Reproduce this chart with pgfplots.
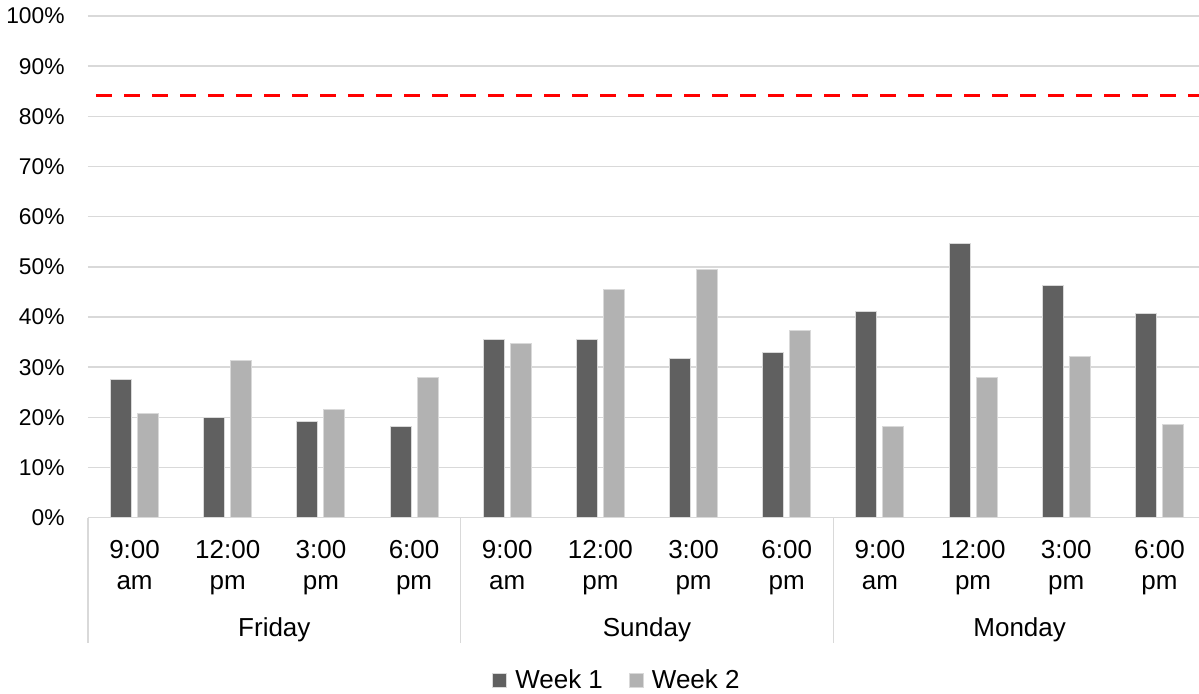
\documentclass[border=0pt]{standalone}
\usepackage{pgfplots}
\pgfplotsset{compat=1.18}
\usepackage{fontspec}
\setmainfont{Liberation Sans}
\definecolor{dark}{HTML}{606060}
\definecolor{light}{HTML}{B2B2B2}
\definecolor{gridc}{HTML}{D9D9D9}
\begin{document}
\begin{tikzpicture}
\begin{axis}[name=ax, scale only axis, width=555.5pt, height=250.85pt,
  xmin=-0.5, xmax=11.425, ymin=0, ymax=100,
  axis line style={draw=none},
  ymajorgrids, grid style={gridc, line width=0.75pt},
  ytick={0,10,...,100},
  yticklabels={0\%,10\%,20\%,30\%,40\%,50\%,60\%,70\%,80\%,90\%,100\%},
  xtick={0,...,11},
  xticklabels={{9:00\\am},{12:00\\pm},{3:00\\pm},{6:00\\pm},{9:00\\am},{12:00\\pm},{3:00\\pm},{6:00\\pm},{9:00\\am},{12:00\\pm},{3:00\\pm},{6:00\\pm}},
  major tick length=0pt,
  xticklabel style={anchor=north, inner sep=0pt, yshift=-11.1pt, align=center, font=\fontsize{13}{15.4}\selectfont},
  yticklabel style={anchor=east, inner sep=0pt, xshift=-11.5pt, font=\fontsize{11.4}{13}\selectfont},
  clip=false,
  legend columns=2,
  legend style={at={(0.4752,0)}, anchor=center, yshift=-81.65pt, draw=none, fill=none,
    inner sep=0pt, font=\fontsize{13}{15}\selectfont,
    nodes={inner sep=0pt},
    /tikz/every odd column/.append style={column sep=4pt},
    /tikz/every even column/.append style={column sep=13pt}},
  legend image code/.code={\fill[#1] (0pt,-3.5pt) rectangle (7pt,3.5pt);},
]
\addplot[ybar, bar width=10.5pt, bar shift=-6.75pt, fill=dark, draw=gridc, line width=0.5pt]
  coordinates {(0,27.6) (1,19.9) (2,19.1) (3,18.1) (4,35.6) (5,35.6) (6,31.8) (7,33.0) (8,41.1) (9,54.7) (10,46.2) (11,40.7)};
\addlegendentry{Week 1}
\addplot[ybar, bar width=10.5pt, bar shift=6.75pt, fill=light, draw=gridc, line width=0.5pt]
  coordinates {(0,20.7) (1,31.3) (2,21.6) (3,28.0) (4,34.7) (5,45.4) (6,49.5) (7,37.3) (8,18.1) (9,28.0) (10,32.2) (11,18.5)};
\addlegendentry{Week 2}
\addplot[sharp plot, forget plot, red, line width=1.75pt, dash pattern=on 8pt off 6pt]
  coordinates {(-0.414,84.2) (11.425,84.2)};
\draw[gridc, line width=0.75pt] (axis cs:-0.5,0) -- ([yshift=-62.5pt]axis cs:-0.5,0);
\draw[gridc, line width=0.75pt] (axis cs:3.5,0) -- ([yshift=-62.5pt]axis cs:3.5,0);
\draw[gridc, line width=0.75pt] (axis cs:7.5,0) -- ([yshift=-62.5pt]axis cs:7.5,0);
\node[anchor=base, font=\fontsize{13}{15}\selectfont] at ([yshift=-59.4pt]axis cs:1.5,0) {Friday};
\node[anchor=base, font=\fontsize{13}{15}\selectfont] at ([yshift=-59.4pt]axis cs:5.5,0) {Sunday};
\node[anchor=base, font=\fontsize{13}{15}\selectfont] at ([yshift=-59.4pt]axis cs:9.5,0) {Monday};
\end{axis}
\pgfresetboundingbox
\path[use as bounding box] ([shift={(-44pt,-88.15pt)}]ax.south west) rectangle ([shift={(0pt,8pt)}]ax.north east);
\end{tikzpicture}
\end{document}
